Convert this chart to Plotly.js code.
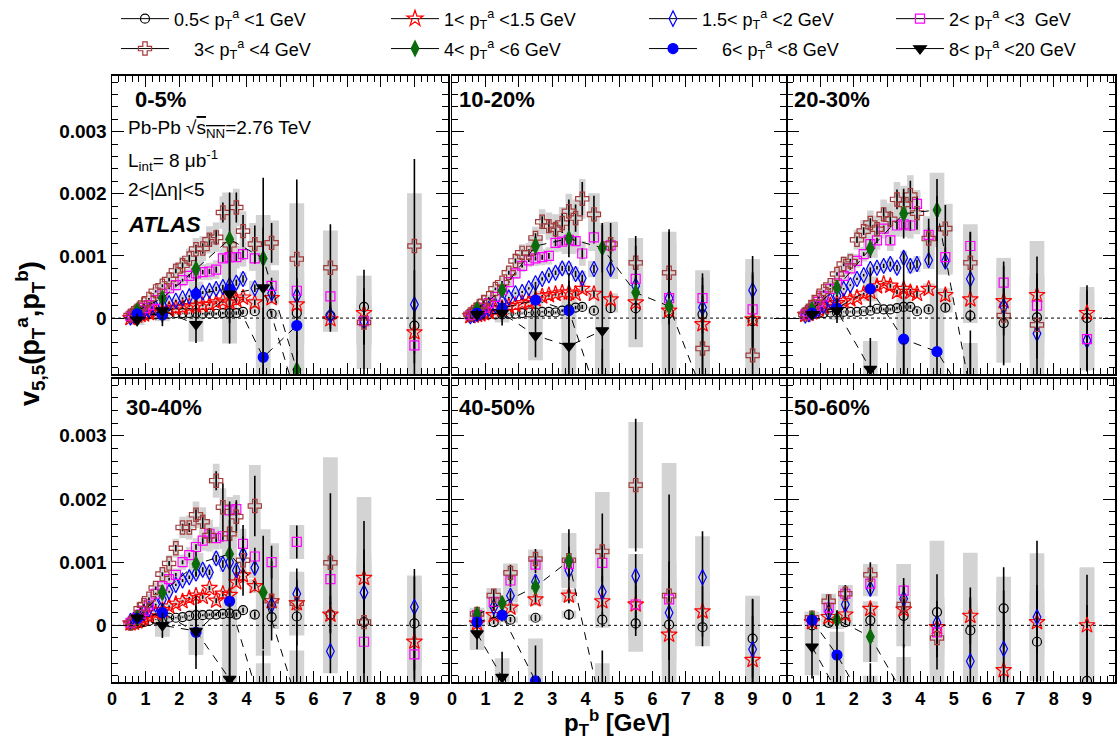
<!DOCTYPE html>
<html><head><meta charset="utf-8">
<script src="https://cdn.plot.ly/plotly-3.0.1.min.js"></script>
<style>html,body{margin:0;padding:0;background:#fff;}#chart{width:1117px;height:749px;}</style>
</head><body><div id="chart"></div>
<script>
// ---------------- DATA (v5,5 in units of 1e-4) ----------------
const ptbFine = [0.55,0.65,0.75,0.85,0.95,1.1,1.3,1.5,1.7,1.9,2.1,2.3,2.5,2.7,2.9,3.1,3.3,3.5,3.7,3.9,4.25,4.75,5.5,6.5,7.5,9];
const ptbPeri = [0.75,1.25,1.75,2.5,3.5,4.5,5.5,6.5,7.5,9];
const ptbHigh = [0.75,1.5,2.5,3.5,4.5,5.5,6.5,7.5,9];
const centralities = ['0-5%','10-20%','20-30%','30-40%','40-50%','50-60%'];
const legendTexts = [
 '0.5&lt; p<sub>T</sub><sup>a</sup> &lt;1 GeV',
 '1&lt; p<sub>T</sub><sup>a</sup> &lt;1.5 GeV',
 '1.5&lt; p<sub>T</sub><sup>a</sup> &lt;2 GeV',
 '2&lt; p<sub>T</sub><sup>a</sup> &lt;3\u00a0 GeV',
 '\u00a0\u00a0\u00a0\u00a03&lt; p<sub>T</sub><sup>a</sup> &lt;4 GeV',
 '4&lt; p<sub>T</sub><sup>a</sup> &lt;6 GeV',
 '\u00a0\u00a0\u00a0\u00a06&lt; p<sub>T</sub><sup>a</sup> &lt;8 GeV',
 '8&lt; p<sub>T</sub><sup>a</sup> &lt;20 GeV'
];
const yTickVals = [0,10,20,30];
const yTickText = ['0','0.001','0.002','0.003'];
const xTickVals = [0,1,2,3,4,5,6,7,8,9];

// 0.5-1 GeV
const circY = [
 [0.0,0.1,0.3,0.4,0.5,0.6,0.6,0.7,0.7,0.8,0.8,0.8,0.8,0.7,0.7,0.7,0.8,0.8,0.8,1.0,1.1,0.7,0.8,0.4,1.8,-1.2],
 [0.2,0.3,0.3,0.4,0.5,0.6,0.6,0.6,0.7,0.7,0.8,0.9,0.9,1.0,1.0,0.9,1.2,1.4,1.7,1.8,1.2,1.6,1.6,0.8,0.6,-0.5],
 [0.5,0.6,0.6,0.7,0.8,0.8,0.9,0.9,1.0,1.0,1.0,1.1,1.2,1.5,1.4,1.4,1.6,1.8,1.8,1.1,1.4,1.7,0.4,-0.8,0.1,0.0],
 [0.0,0.2,0.3,0.4,0.5,0.7,0.9,1.1,1.2,1.2,1.3,1.5,1.6,1.6,1.7,1.7,1.8,1.9,1.7,2.4,1.7,1.3,1.4,1.7,0.5,0.3],
 [0.6,0.5,0.9,1.2,1.7,0.9,0.3,0.1,-0.3,-2.1],
 [0.0,0.4,0.5,0.8,1.5,2.1,-0.8,2.7,-2.6,-8.8]
];
const circE = [
 [0.02,0.02,0.02,0.02,0.03,0.03,0.03,0.04,0.05,0.06,0.07,0.08,0.1,0.12,0.14,0.16,0.2,0.24,0.28,0.34,0.3,0.5,0.9,1.6,3.0,4.5],
 [0.02,0.02,0.02,0.03,0.03,0.03,0.04,0.04,0.05,0.06,0.07,0.08,0.1,0.12,0.14,0.16,0.2,0.24,0.28,0.34,0.4,0.6,1.0,1.8,3.0,4.5],
 [0.02,0.02,0.03,0.03,0.03,0.04,0.04,0.05,0.06,0.07,0.08,0.09,0.11,0.13,0.15,0.18,0.22,0.26,0.3,0.36,0.4,0.6,1.0,2.0,3.5,4.5],
 [0.03,0.03,0.03,0.04,0.04,0.05,0.05,0.06,0.07,0.08,0.1,0.11,0.13,0.15,0.18,0.21,0.25,0.3,0.35,0.4,0.5,0.7,4.6,2.0,3.5,7.4],
 [0.3,0.3,0.4,0.5,0.8,1.2,2.0,3.0,3.0,6.2],
 [0.4,0.4,0.5,0.8,5.0,6.0,5.0,6.5,9.0,12.0]
];
const circS = [
 [0.2,0.2,0.2,0.2,0.2,0.2,0.2,0.2,0.3,0.3,0.3,0.3,0.3,0.3,0.3,0.3,0.4,0.4,0.4,0.4,0.5,0.6,1.0,1.5,5.0,6.0],
 [0.2,0.2,0.2,0.2,0.2,0.2,0.2,0.3,0.3,0.3,0.3,0.3,0.3,0.4,0.4,0.4,0.4,0.5,0.5,0.5,0.6,0.7,1.2,2.0,3.0,5.0],
 [0.2,0.2,0.2,0.2,0.2,0.3,0.3,0.3,0.3,0.3,0.3,0.4,0.4,0.4,0.4,0.4,0.5,0.5,0.5,0.5,0.6,0.8,1.2,2.0,4.0,5.0],
 [0.3,0.3,0.3,0.3,0.3,0.3,0.3,0.4,0.4,0.4,0.4,0.4,0.5,0.5,0.5,0.5,0.5,0.6,0.6,0.6,0.7,0.9,3.0,2.5,4.0,5.0],
 [0.5,0.5,0.5,0.5,0.6,1.3,2.0,3.0,3.0,6.8],
 [0.6,0.6,0.7,1.0,4.8,11.3,4.0,5.0,6.0,18.0]
];
// 1-1.5 GeV
const starY = [
 [0.0,0.3,0.4,0.5,0.6,0.8,1.0,1.2,1.4,1.6,1.7,1.9,2.0,2.1,2.2,2.5,2.8,2.5,2.9,3.3,2.5,3.2,2.2,-0.2,0.8,-2.3],
 [0.3,0.4,0.5,0.6,0.8,1.0,1.3,1.6,1.9,2.1,2.4,2.6,3.0,3.5,3.7,3.9,4.1,4.1,3.9,4.7,3.9,3.0,2.5,1.2,-1.0,-0.2],
 [0.5,0.7,0.9,1.2,1.4,1.8,2.1,2.4,2.7,3.0,3.3,3.9,4.2,5.1,5.5,5.2,4.2,4.7,4.2,3.9,4.7,3.7,3.0,2.7,3.7,0.8],
 [0.3,0.4,0.6,0.9,1.1,1.4,1.9,2.4,3.0,3.4,3.8,4.3,4.7,4.5,5.9,3.9,5.0,4.8,6.8,7.9,6.2,3.8,3.5,1.7,7.5,-2.6],
 [0.3,1.6,2.8,4.1,4.7,3.8,3.3,-1.5,2.2,-5.5],
 [0.5,1.3,1.7,2.6,2.5,-0.3,1.5,-7.1,0.5,0.0]
];
const starE = [
 [0.03,0.03,0.03,0.04,0.04,0.05,0.06,0.07,0.08,0.1,0.12,0.14,0.16,0.2,0.24,0.28,0.32,0.38,0.44,0.5,0.5,0.7,1.2,2.0,3.2,5.0],
 [0.03,0.03,0.04,0.04,0.05,0.05,0.06,0.07,0.09,0.11,0.13,0.15,0.18,0.22,0.26,0.3,0.35,0.4,0.46,0.52,0.6,0.8,1.3,2.2,3.4,5.0],
 [0.03,0.03,0.04,0.05,0.05,0.06,0.07,0.08,0.1,0.12,0.14,0.17,0.2,0.24,0.28,0.32,0.37,0.42,0.48,0.55,0.6,0.9,1.4,2.5,3.5,4.5],
 [0.04,0.04,0.05,0.05,0.06,0.07,0.08,0.1,0.12,0.14,0.17,0.2,0.24,0.28,0.33,0.38,0.44,0.5,0.57,0.65,0.8,1.1,1.8,3.0,4.5,6.0],
 [0.4,0.5,0.6,0.8,1.2,2.0,3.0,4.0,4.0,7.0],
 [0.5,0.6,0.7,1.0,1.5,3.0,4.5,12.6,5.0,8.0]
];
const starS = [
 [0.1,0.1,0.2,0.2,0.2,0.2,0.3,0.3,0.3,0.4,0.4,0.4,0.5,0.5,0.5,0.6,0.6,0.7,0.7,0.8,0.8,1.0,1.5,2.0,3.0,4.0],
 [0.1,0.2,0.2,0.2,0.2,0.3,0.3,0.3,0.4,0.4,0.4,0.5,0.5,0.5,0.6,0.6,0.6,0.7,0.7,0.8,0.9,1.0,1.5,2.0,3.0,4.0],
 [0.1,0.2,0.2,0.2,0.3,0.3,0.3,0.4,0.4,0.4,0.5,0.5,0.5,0.6,0.6,0.6,0.7,0.7,0.8,0.8,0.9,1.1,1.5,2.0,3.0,3.5],
 [0.2,0.2,0.2,0.3,0.3,0.3,0.4,0.4,0.4,0.5,0.5,0.6,0.6,0.7,0.7,0.8,0.8,0.9,0.9,1.0,1.1,1.3,1.8,2.5,3.5,4.0],
 [0.6,0.7,0.8,1.0,1.0,2.0,7.5,4.0,3.5,6.0],
 [0.7,0.8,0.9,1.2,2.0,3.5,10.0,12.5,5.0,9.0]
];
// 1.5-2 GeV
const diamY = [
 [0.1,0.4,0.6,0.8,1.0,1.3,1.6,2.0,2.4,2.8,3.2,3.5,3.9,4.1,4.4,4.7,5.0,5.3,5.7,6.3,4.8,4.0,3.6,0.4,-0.6,2.2],
 [0.3,0.5,0.7,0.9,1.2,1.5,2.0,2.6,3.3,4.0,4.2,4.8,5.6,6.3,6.9,7.3,8.0,8.0,7.1,6.4,7.9,7.9,5.2,3.2,1.7,4.5],
 [0.4,0.6,0.9,1.2,1.5,2.0,2.8,3.6,4.7,5.3,6.3,6.9,7.9,8.1,8.4,8.7,8.1,9.7,8.4,8.7,9.3,9.1,6.3,1.9,-2.5,-3.6],
 [0.7,0.9,1.2,1.6,2.0,2.6,3.3,4.1,5.3,6.4,7.1,7.6,8.2,8.8,8.4,10.6,9.7,10.0,8.7,11.2,9.1,3.2,5.0,-4.1,5.2,2.9],
 [1.2,2.9,4.7,6.9,8.7,5.3,7.8,2.0,7.6,-3.8],
 [0.9,2.1,3.3,5.8,4.2,0.4,-5.7,-3.7,1.3,null]
];
const diamE = [
 [0.03,0.04,0.04,0.05,0.05,0.06,0.07,0.08,0.1,0.12,0.14,0.17,0.2,0.24,0.28,0.33,0.38,0.44,0.5,0.58,0.6,0.9,1.5,2.2,3.5,5.5],
 [0.03,0.04,0.05,0.05,0.06,0.07,0.08,0.09,0.11,0.13,0.15,0.18,0.22,0.26,0.3,0.35,0.4,0.46,0.52,0.6,0.7,1.0,1.6,2.4,3.6,5.5],
 [0.04,0.04,0.05,0.06,0.07,0.08,0.09,0.11,0.13,0.15,0.18,0.21,0.25,0.29,0.34,0.4,0.46,0.53,0.6,0.68,0.8,1.1,1.8,2.8,4.0,5.0],
 [0.05,0.05,0.06,0.07,0.08,0.09,0.11,0.13,0.16,0.19,0.23,0.27,0.32,0.38,0.45,0.52,0.6,0.7,0.8,0.9,1.0,1.4,2.2,3.5,4.5,6.0],
 [0.5,0.6,0.8,1.0,1.5,2.5,3.5,5.0,7.3,8.0],
 [0.6,0.7,0.9,1.2,1.8,3.5,10.2,6.0,12.1,0]
];
const diamS = [
 [0.2,0.2,0.2,0.2,0.3,0.3,0.4,0.4,0.5,0.5,0.6,0.6,0.7,0.7,0.8,0.8,0.9,1.0,1.0,1.1,1.2,1.5,2.0,2.5,3.5,5.0],
 [0.2,0.2,0.2,0.3,0.3,0.3,0.4,0.5,0.5,0.6,0.6,0.7,0.7,0.8,0.8,0.9,1.0,1.0,1.1,1.2,1.3,1.6,2.2,2.8,3.5,5.0],
 [0.2,0.2,0.3,0.3,0.3,0.4,0.4,0.5,0.5,0.6,0.7,0.7,0.8,0.8,0.9,1.0,1.0,1.1,1.2,1.3,1.4,1.7,2.3,3.0,4.0,4.8],
 [0.2,0.3,0.3,0.3,0.4,0.4,0.5,0.5,0.6,0.7,0.7,0.8,0.9,1.0,1.0,1.1,1.2,1.3,1.4,1.5,1.6,2.0,3.0,3.5,4.5,5.0],
 [0.6,0.8,1.0,1.2,1.5,2.5,3.5,5.0,6.5,7.0],
 [0.8,0.9,1.0,1.2,2.0,4.0,6.0,5.0,10.1,0]
];
// 2-3 GeV
const sqY = [
 [0.3,0.6,0.9,1.3,1.6,2.1,2.9,3.9,4.8,5.3,6.1,6.8,7.2,7.4,7.5,7.8,9.6,9.8,9.8,10.3,9.6,5.2,4.4,3.5,-0.5,-4.4],
 [0.5,0.7,1.0,1.3,1.7,2.4,3.4,4.5,5.8,7.2,8.4,9.3,9.6,9.8,10.0,12.1,12.3,12.6,12.4,10.4,13.0,11.7,6.3,3.2,3.2,1.4],
 [0.6,1.0,1.4,2.0,2.6,3.5,4.7,5.6,6.8,8.0,9.2,10.3,11.9,12.5,14.4,12.5,14.9,15.1,14.9,18.4,13.4,9.8,11.6,5.7,2.0,-3.4],
 [0.4,0.8,1.2,1.7,2.3,3.3,5.0,6.2,7.3,8.0,10.0,11.1,12.4,13.4,14.5,13.8,14.1,18.2,18.4,12.9,10.9,10.0,13.2,7.3,-2.6,-4.6],
 [1.6,3.7,7.1,9.6,9.7,9.9,3.3,4.1,null,null],
 [0.8,2.8,5.0,6.6,5.5,-1.1,null,null,null,null]
];
const sqE = [
 [0.04,0.05,0.05,0.06,0.07,0.08,0.1,0.12,0.15,0.18,0.22,0.26,0.3,0.36,0.42,0.5,0.58,0.66,0.75,0.85,0.9,1.3,2.0,2.8,3.8,6.0],
 [0.05,0.05,0.06,0.07,0.08,0.09,0.11,0.13,0.16,0.2,0.24,0.28,0.33,0.39,0.46,0.54,0.62,0.7,0.8,0.9,1.0,1.4,2.2,3.0,4.0,6.0],
 [0.05,0.06,0.07,0.08,0.09,0.1,0.12,0.15,0.18,0.22,0.26,0.31,0.37,0.44,0.52,0.6,0.7,0.8,0.9,1.0,1.2,1.6,2.2,3.4,4.5,5.0],
 [0.06,0.07,0.08,0.09,0.1,0.12,0.15,0.18,0.22,0.27,0.32,0.38,0.45,0.53,0.62,0.72,0.83,0.95,1.1,1.2,1.4,2.6,2.6,4.0,5.0,7.0],
 [0.6,0.8,1.0,1.3,1.8,3.0,4.0,6.0,0,0],
 [0.7,0.9,1.1,1.4,2.0,4.0,0,0,0,0]
];
const sqS = [
 [0.2,0.3,0.3,0.4,0.4,0.5,0.6,0.7,0.8,0.9,1.0,1.1,1.2,1.3,1.4,1.5,1.6,1.7,1.8,2.0,2.0,2.5,3.0,3.5,4.0,6.0],
 [0.2,0.3,0.3,0.4,0.4,0.5,0.6,0.7,0.8,0.9,1.0,1.1,1.2,1.3,1.4,1.5,1.6,1.7,1.8,2.0,2.2,2.5,3.5,4.0,4.5,6.0],
 [0.3,0.3,0.4,0.4,0.5,0.6,0.7,0.8,0.9,1.0,1.1,1.2,1.4,1.5,1.6,1.7,1.8,2.0,2.1,2.2,2.4,2.8,3.5,4.0,5.0,5.0],
 [0.3,0.4,0.4,0.5,0.5,0.6,0.7,0.8,0.9,1.0,1.2,1.3,1.4,1.6,1.7,1.8,2.0,2.1,2.2,2.4,2.6,3.0,2.7,4.5,6.0,11.5],
 [0.8,1.0,1.5,1.6,2.0,3.0,4.0,6.0,0,0],
 [0.8,1.0,1.2,1.5,4.2,4.0,0,0,0,0]
];
// 3-4 GeV
const crossY = [
 [0.4,0.8,1.2,1.7,2.2,3.1,4.3,5.2,6.2,7.6,8.5,9.6,11.1,11.2,12.6,13.0,17.0,11.8,17.8,14.0,11.9,12.1,9.5,8.1,-0.7,11.6],
 [0.6,1.0,1.4,2.0,2.6,3.2,4.7,5.7,7.3,9.2,10.5,10.5,12.9,15.5,14.8,14.3,15.3,17.2,16.1,19.2,16.7,11.9,8.9,7.3,-4.9,-6.0],
 [0.6,1.2,1.7,2.5,3.3,4.3,5.3,7.1,8.7,9.1,12.6,14.0,15.3,14.3,16.7,15.9,19.1,18.3,19.8,16.9,12.8,14.4,8.9,0.4,-1.1,null],
 [0.3,0.5,1.3,2.6,3.2,4.2,5.9,8.1,9.8,12.2,15.5,15.5,17.5,16.4,14.2,22.9,18.7,14.5,17.2,10.3,18.9,3.9,3.5,9.9,0.5,null],
 [1.8,4.7,8.3,10.5,10.3,11.7,22.2,4.7,null,null],
 [1.2,3.8,5.0,8.0,3.3,-2.0,null,null,null,null]
];
const crossE = [
 [0.06,0.07,0.08,0.1,0.12,0.14,0.18,0.24,0.3,0.38,0.46,0.56,0.7,0.85,1.0,1.2,1.6,2.0,2.4,2.6,3.0,3.2,12.8,7.0,8.5,14.0],
 [0.06,0.08,0.1,0.12,0.14,0.17,0.21,0.26,0.32,0.4,0.5,0.6,0.75,0.9,1.1,1.3,1.6,1.9,2.2,2.7,3.0,3.4,4.3,7.0,11.4,13.0],
 [0.07,0.09,0.11,0.13,0.16,0.19,0.23,0.28,0.35,0.43,0.52,0.63,0.76,0.9,1.1,1.3,1.6,1.9,2.3,2.7,3.2,3.8,5.0,8.0,11.0,0],
 [0.08,0.1,0.12,0.14,0.17,0.21,0.26,0.32,0.4,0.5,0.6,0.72,0.86,1.0,1.2,1.5,3.8,2.2,2.6,5.6,4.8,6.3,5.5,11.0,16.0,0],
 [0.7,1.0,1.3,1.6,2.2,6.0,10.5,16.0,0,0],
 [0.8,1.1,1.4,2.0,3.0,5.0,0,0,0,0]
];
const crossS = [
 [0.3,0.3,0.4,0.4,0.5,0.6,0.7,0.8,1.0,1.2,1.4,1.6,1.8,2.0,2.2,2.4,2.6,2.8,3.0,3.2,3.4,3.6,9.0,6.0,7.5,8.5],
 [0.3,0.4,0.4,0.5,0.5,0.6,0.7,0.9,1.0,1.2,1.4,1.6,1.8,2.0,2.2,2.4,2.6,2.8,3.0,3.2,3.4,3.6,4.0,5.0,11.4,13.0],
 [0.3,0.4,0.5,0.5,0.6,0.7,0.8,1.0,1.2,1.4,1.6,1.8,2.0,2.2,2.4,2.6,2.8,3.0,3.2,3.4,3.6,4.0,4.5,7.6,13.5,0],
 [0.4,0.4,0.5,0.6,0.7,0.8,0.9,1.1,1.3,1.5,1.7,1.9,2.1,2.3,2.5,2.7,3.0,3.2,3.4,3.6,6.5,4.5,5.0,16.7,19.8,0],
 [1.0,1.2,1.5,1.5,4.3,9.4,10.0,21.0,0,0],
 [1.0,1.2,1.4,1.7,3.0,5.0,0,0,0,0]
];
// 4-6 GeV
const greenY = [
 [1.2,3.2,7.9,12.7,9.6,-8.3],
 [1.4,4.5,11.6,12.8,11.3,4.1,1.9,-12],
 [1.4,4.9,11.2,16.8,17.4,-12],
 [1.2,5.2,9.7,11.3,5.2,-12],
 [1.7,3.5,6.1,10.2,-14],
 [1.1,0.9,-1.8,-11]
];
const greenE = [
 [0.3,0.8,2.0,7.5,5.0,3.0],
 [0.3,0.8,1.5,3.0,4.0,7.5,12,10],
 [0.3,0.8,1.5,4.0,5.0,10],
 [0.4,1.0,2.0,4.0,9.0,10],
 [0.5,0.5,1.0,5.0,10],
 [0.8,1.5,4.0,8]
];
const greenS = [
 [0.4,1.0,1.5,7.5,7.0,8],
 [0.4,1.0,1.5,2.5,4.0,8.8,12,10],
 [0.4,1.0,1.5,3.0,6.0,8],
 [0.5,1.0,1.8,3.0,10,8],
 [0.6,0.8,1.5,4.3,8],
 [1.0,1.5,4.0,6]
];
// 6-8 GeV
const blueY = [
 [0.7,0.5,3.9,4.7,-6.3,-1.2],
 [0.8,1.6,2.9,1.2,-15],
 [0.8,1.6,4.7,-3.4,-5.4,-14],
 [1.1,2.0,-1.1,3.8,-14],
 [0.5,1.6,-8.8],
 [0.8,-4.7,-14]
];
const blueE = [
 [0.5,1.2,2.5,5.5,8.0,5.0],
 [0.6,1.0,2.5,6.0,10],
 [0.5,1.2,3.0,14,25,10],
 [0.6,1.5,5.8,15.8,10],
 [0.6,1.0,5.6],
 [1.0,7.0,8]
];
const blueS = [
 [0.4,1.0,2.0,3.0,4.0,3.0],
 [0.5,1.0,1.5,3.0,8],
 [0.4,1.0,2.0,7.0,10,8],
 [0.5,1.0,3.6,14,8],
 [0.6,1.0,6.7],
 [1.0,3.7,6]
];
// 8-20 GeV
const triY = [
 [-0.3,1.2,-1.0,3.9,4.9,-13],
 [0.6,0.8,-2.8,-4.5,-2.0],
 [0.6,1.2,-8.2,-14],
 [1.2,0.0,-0.9,-8.5],
 [-1.3,-8.2],
 [-3.4,-10.5]
];
const triE = [
 [1.0,2.5,3.0,8.0,17.7,10],
 [0.8,2.0,3.5,10.5,17],
 [0.8,2.0,5.0,10],
 [0.8,2.0,4.0,12],
 [2.5,4.0],
 [5.0,6]
];
const triS = [
 [0.8,1.5,2.8,8.0,10,6],
 [0.6,1.5,4.0,8.0,15],
 [0.6,1.5,4.5,8],
 [0.8,1.8,3.0,10],
 [2.6,3.0],
 [4.5,4]
];

// ---------------- STYLE ----------------
const FONT = 'Liberation Sans, Arial, Helvetica, sans-serif';
const W = 1117, H = 749;
const px = v => v / W, py = v => 1 - v / H;
const colPx = [[112,448],[452,786],[787,1115]];
const rowPx = [[74,373],[378,682]];
const xRanges = [[0,10],[0,10],[0,9.84]];
const yRange = [-9,39];
const boxColor = '#d3d3d3';

const series = [
 {Y:circY,E:circE,S:circS,low:true,sym:'circle-open',color:'#000000',size:9,dash:false},
 {Y:starY,E:starE,S:starS,low:true,sym:'star-open',color:'#ff0000',size:12,dash:false},
 {Y:diamY,E:diamE,S:diamS,low:true,sym:'diamond-tall-open',color:'#0000ff',size:11,dash:false},
 {Y:sqY,E:sqE,S:sqS,low:true,sym:'square-open',color:'#ff00ff',size:9,dash:false},
 {Y:crossY,E:crossE,S:crossS,low:true,sym:'cross-open',color:'#a33a3a',size:11,dash:false},
 {Y:greenY,E:greenE,S:greenS,low:false,sym:'diamond-tall',color:'#0b6b0b',size:11,dash:true},
 {Y:blueY,E:blueE,S:blueS,low:false,sym:'circle',color:'#0000ff',size:10,dash:true},
 {Y:triY,E:triE,S:triS,low:false,sym:'triangle-down',color:'#000000',size:11,dash:true}
];

function halfWidths(xs){
  return xs.map((x,i)=>{
    let g = Infinity;
    if(i>0) g = Math.min(g, x - xs[i-1]);
    if(i<xs.length-1) g = Math.min(g, xs[i+1]-x);
    return Math.min(0.22, 0.5*g);
  });
}

const boxTraces = [], markTraces = [];
const layout = {
  width: W, height: H, margin:{l:0,r:0,t:0,b:0},
  paper_bgcolor:'#fff', plot_bgcolor:'#fff',
  showlegend:true, barmode:'overlay', hovermode:false,
  font:{family:FONT, color:'#000'},
  shapes:[], annotations:[]
};

for(let k=0;k<6;k++){
  const col = k%3, row = Math.floor(k/3);
  const sfx = k===0 ? '' : String(k+1);
  const xa = 'x'+sfx, ya = 'y'+sfx;
  layout['xaxis'+sfx] = {
    domain:[px(colPx[col][0]), px(colPx[col][1])], range:xRanges[col], anchor:ya,
    showline:true, linecolor:'#000', linewidth:1.5, mirror:'allticks',
    ticks:'inside', ticklen:11, tickwidth:1, tickcolor:'#000',
    tickmode:'array', tickvals:xTickVals, ticktext:xTickVals.map(String),
    showticklabels: row===1, tickfont:{family:FONT,size:18,weight:'bold',color:'#000'},
    minor:{tickmode:'linear', tick0:0, dtick:0.2, ticks:'inside', ticklen:6, tickcolor:'#000', tickwidth:1, showgrid:false},
    showgrid:false, zeroline:false, fixedrange:true
  };
  layout['yaxis'+sfx] = {
    domain:[py(rowPx[row][1]), py(rowPx[row][0])], range:yRange, anchor:xa,
    showline:true, linecolor:'#000', linewidth:1.5, mirror:'allticks',
    ticks:'inside', ticklen:12, tickwidth:1, tickcolor:'#000',
    tickmode:'array', tickvals:yTickVals, ticktext:yTickText,
    showticklabels: col===0, tickfont:{family:FONT,size:19,weight:'bold',color:'#000'},
    minor:{tickmode:'linear', tick0:0, dtick:2, ticks:'inside', ticklen:6, tickcolor:'#000', tickwidth:1, showgrid:false},
    showgrid:false, zeroline:false, fixedrange:true
  };
  layout.shapes.push({type:'line', xref:xa+' domain', yref:ya, x0:0, x1:1, y0:0, y1:0,
    line:{color:'#000', width:1, dash:'dot'}, layer:'above'});

  series.forEach((s)=>{
    const xs = s.low ? (k<4 ? ptbFine : ptbPeri) : ptbHigh;
    const ys = s.Y[k], es = s.E[k], ss = s.S[k];
    const hw = halfWidths(xs);
    const bx=[], bh=[], bb=[], bw=[];
    ys.forEach((y,i)=>{
      if(y===null || ss[i]===undefined || !ss[i]) return;
      bx.push(xs[i]); bh.push(2*ss[i]); bb.push(y-ss[i]); bw.push(2*hw[i]);
    });
    boxTraces.push({type:'bar', x:bx, y:bh, base:bb, width:bw, xaxis:xa, yaxis:ya,
      marker:{color:boxColor, line:{width:0}}, showlegend:false, hoverinfo:'skip'});
    markTraces.push({type:'scatter', mode: s.dash ? 'lines+markers' : 'markers',
      x: xs.slice(0, ys.length), y: ys, xaxis:xa, yaxis:ya, showlegend:false, connectgaps:false,
      line:{color:'#000', width:1, dash:'8px,7px'},
      marker:{symbol:s.sym, size:s.size, color:s.color, line:{color:s.color, width:1.2}},
      error_y:{type:'data', array: es, visible:true, color:'#000', thickness:1.6, width:0}
    });
  });
}

// legend entries (one small legend per entry, positioned like the reference grid)
const legCols = [116, 386, 644, 891];
const legRows = [17, 47];
const legendTraces = series.map((s,i)=>{
  const name = i===0 ? 'legend' : 'legend'+(i+1);
  layout[name] = {x:px(legCols[i%4]), y:py(legRows[Math.floor(i/4)]), xanchor:'left', yanchor:'middle',
    bgcolor:'rgba(0,0,0,0)', borderwidth:0, font:{family:FONT,size:18,color:'#000'}, itemwidth:48};
  return {type:'scatter', mode:'lines+markers', x:[null], y:[null], name:legendTexts[i], legend:name,
    showlegend:true, line:{color:'#000', width:1},
    marker:{symbol:s.sym, size:s.size, color:s.color, line:{color:s.color, width:1.2}}};
});

// panel labels
const labPos = [[133,98],[457,98],[792,98],[124,407],[457,407],[792,407]];
centralities.forEach((c,k)=>{
  layout.annotations.push({text:c, xref:'paper', yref:'paper', x:px(labPos[k][0]), y:py(labPos[k][1]),
    xanchor:'left', yanchor:'middle', showarrow:false, font:{family:FONT,size:22,weight:'bold',color:'#000'}});
});
const info = [
  ['Pb-Pb \u221A<span style="text-decoration:overline">s<sub>NN</sub></span>=2.76 TeV', 127, 19, 'normal', 'normal'],
  ['L<sub>int</sub>= 8 \u03BCb<sup>-1</sup>', 159, 19, 'normal', 'normal'],
  ['2&lt;|\u0394\u03B7|&lt;5', 188, 19, 'normal', 'normal'],
  ['ATLAS', 223, 22, 'bold', 'italic']
];
info.forEach(t=>{
  layout.annotations.push({text:t[0], xref:'paper', yref:'paper', x:px(126), y:py(t[1]), xanchor:'left', yanchor:'middle',
    showarrow:false, font:{family:FONT,size:t[2],weight:t[3],style:t[4],color:'#000'}});
});
layout.annotations.push({text:'v<sub>5,5</sub>(p<sub>T</sub><sup>a</sup>,p<sub>T</sub><sup>b</sup>)', xref:'paper', yref:'paper',
  x:px(30), y:py(333), textangle:-90, showarrow:false, xanchor:'center', yanchor:'middle',
  font:{family:FONT,size:27,weight:'bold',color:'#000'}});
layout.annotations.push({text:'p<sub>T</sub><sup>b</sup> [GeV]', xref:'paper', yref:'paper',
  x:px(617), y:py(723), showarrow:false, xanchor:'center', yanchor:'middle',
  font:{family:FONT,size:24,weight:'bold',color:'#000'}});

Plotly.newPlot('chart', boxTraces.concat(markTraces, legendTraces), layout, {displayModeBar:false, staticPlot:true});
</script></body></html>
